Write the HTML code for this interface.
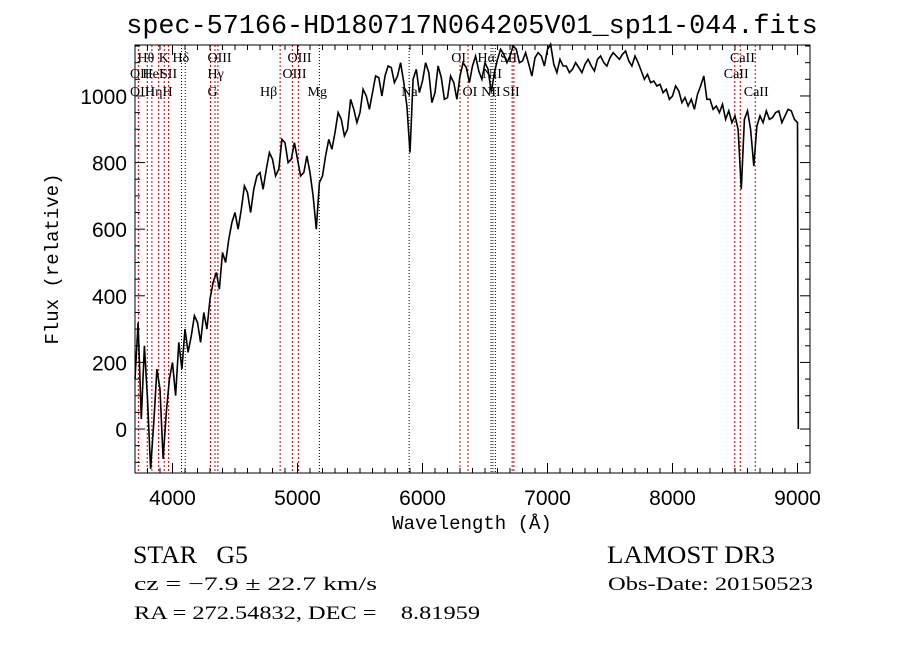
<!DOCTYPE html>
<html><head><meta charset="utf-8"><style>
body{margin:0;background:#fff;}
svg{display:block}
</style></head><body>
<svg id="chart" width="900" height="649" viewBox="0 0 900 649" xmlns="http://www.w3.org/2000/svg">
<rect x="0" y="0" width="900" height="649" fill="#fff"/>
<text x="472" y="33" text-anchor="middle" font-family="Liberation Mono, monospace" font-size="26.8">spec-57166-HD180717N064205V01_sp11-044.fits</text>
<text x="472" y="529" text-anchor="middle" font-family="Liberation Mono, monospace" font-size="19">Wavelength (Å)</text>
<text transform="translate(58,259) rotate(-90)" text-anchor="middle" font-family="Liberation Mono, monospace" font-size="19">Flux (relative)</text>
<g font-family="Liberation Serif, serif" fill="#000">
<text x="133" y="563" font-size="25" textLength="115" lengthAdjust="spacingAndGlyphs">STAR&#160;&#160;&#160;G5</text>
<text x="607" y="563" font-size="25" textLength="168" lengthAdjust="spacingAndGlyphs">LAMOST DR3</text>
<text x="134" y="590" font-size="19" textLength="243" lengthAdjust="spacingAndGlyphs">cz = −7.9 ± 22.7 km/s</text>
<text x="608" y="590" font-size="19" textLength="205" lengthAdjust="spacingAndGlyphs">Obs-Date: 20150523</text>
<text x="134" y="619" font-size="19" textLength="346" lengthAdjust="spacingAndGlyphs">RA = 272.54832, DEC =&#160;&#160;&#160;&#160;8.81959</text>
</g>
<g id="plot"></g>
</svg>
<script>
const fluxStart = 3700;
const fluxStep = 25;
const fluxValues = [
150,320,30,250,90,-120,20,180,120,-90,50,150,200,100,260,180,300,230,280,340,
320,260,350,300,390,440,470,420,530,500,570,620,650,600,660,730,710,650,720,760,
770,720,780,830,810,760,780,870,860,800,810,860,810,760,770,820,770,700,600,740,
760,820,870,840,890,950,930,880,900,990,960,920,950,1020,1000,960,1010,1060,1055,1000,
1060,1090,1085,1040,1060,1100,1040,970,830,1050,1080,1010,1045,1100,1070,980,1010,1090,1055,990,
995,1060,1040,990,1060,1100,1085,1040,1090,1120,1075,1050,1100,1080,1010,1070,1110,1140,1125,1100,
1120,1150,1140,1100,1105,1130,1095,1060,1115,1130,1120,1090,1140,1155,1095,1070,1110,1090,1090,1070,
1080,1100,1085,1070,1095,1110,1090,1075,1110,1120,1100,1090,1115,1130,1120,1110,1125,1135,1105,1090,
1120,1100,1075,1050,1065,1040,1045,1030,1035,1010,1020,990,1000,1030,1015,980,995,970,990,960,
1005,1030,1060,990,990,960,970,950,975,930,955,920,940,900,720,930,955,900,790,910,
940,920,955,930,935,950,955,920,940,960,955,930,920
];
const tailWave = [9005, 9006];
const tailFlux = [200, 0];
const xTicks = [4000,5000,6000,7000,8000,9000];
const yTicks = [0,200,400,600,800,1000];
const redLines = [3727,3798,3835,3889,3934,3969,4304,4340,4363,4861,4959,5007,6300,6364,6717,6731,8498,8542,8662];
const blackLines = [4072,4102,5175,5893,6548,6563,6583];
const lineLabels = ["Hθ","K","Hδ","OIII","OIII","OI","Hα","SII","CaII","OII","HeI","SII","Hγ","OIII","NII","CaII","OII","Hη","H","G","Hβ","Mg","Na","OI","NII","SII","CaII"];
const lineLabelWaves = [3720,3890,4000,4280,4920,6230,6440,6620,8460,3660,3760,3900,4280,4880,6480,8410,3660,3780,3920,4280,4700,5080,5830,6320,6470,6640,8570];
const lineLabelRows = [0,0,0,0,0,0,0,0,0,1,1,1,1,1,1,1,2,2,2,2,2,2,2,2,2,2,2];

const X0=135, X1=810, Y0=45, Y1=473, WMIN=3700, WMAX=9100, FMIN=-132, FMAX=1153;
function xs(w){return X0+(w-WMIN)/(WMAX-WMIN)*(X1-X0);}
function ys(f){return Y1-(f-FMIN)/(FMAX-FMIN)*(Y1-Y0);}
const NS="http://www.w3.org/2000/svg";
const g=document.getElementById('plot');
function el(tag,attrs,parent){const e=document.createElementNS(NS,tag);for(const k in attrs)e.setAttribute(k,attrs[k]);(parent||g).appendChild(e);return e;}

const lg=el('g',{});


redLines.forEach(w=>{const l=el('line',{x1:xs(w),x2:xs(w),y1:Y0,y2:Y1,stroke:'#c00000','stroke-width':1,'stroke-dasharray':'2,2'},lg);

});
blackLines.forEach(w=>{const l=el('line',{x1:xs(w),x2:xs(w),y1:Y0,y2:Y1,stroke:'#000','stroke-width':1,'stroke-dasharray':'1,2'},lg);

});

const rowY=[62,78,96];
lineLabels.forEach((t,i)=>{const tx=el('text',{x:xs(lineLabelWaves[i]),y:rowY[lineLabelRows[i]],'font-family':'Liberation Serif, serif','font-size':14},lg);tx.textContent=t;

});

let d='';
fluxValues.forEach((f,i)=>{const w=fluxStart+i*fluxStep;d+=(i?'L':'M')+xs(w).toFixed(1)+','+ys(f).toFixed(1);});
tailWave.forEach((w,i)=>{d+='L'+xs(w).toFixed(1)+','+ys(tailFlux[i]).toFixed(1);});
const sp=el('path',{d:d,fill:'none',stroke:'#000','stroke-width':1.6,'stroke-linejoin':'miter'});



const ax=el('g',{stroke:'#000','stroke-width':1});


el('rect',{x:X0,y:Y0,width:X1-X0,height:Y1-Y0,fill:'none'},ax);
for(let w=3700;w<=9100;w+=100){const big=w%1000===0;const L=big?10:5;
el('line',{x1:xs(w),x2:xs(w),y1:Y1,y2:Y1-L},ax);el('line',{x1:xs(w),x2:xs(w),y1:Y0,y2:Y0+L},ax);}
for(let f=-100;f<=1150;f+=50){const big=f%200===0;const L=big?10:5;
el('line',{x1:X0,x2:X0+L,y1:ys(f),y2:ys(f)},ax);el('line',{x1:X1,x2:X1-L,y1:ys(f),y2:ys(f)},ax);}
xTicks.forEach(w=>{const t=el('text',{x:xs(w),y:505,'text-anchor':'middle','font-family':'Liberation Sans, sans-serif','font-size':21});t.textContent=w;

});
yTicks.forEach(f=>{const t=el('text',{x:127,y:ys(f)+8,'text-anchor':'end','font-family':'Liberation Sans, sans-serif','font-size':21});t.textContent=f;

});
</script>
</body></html>
